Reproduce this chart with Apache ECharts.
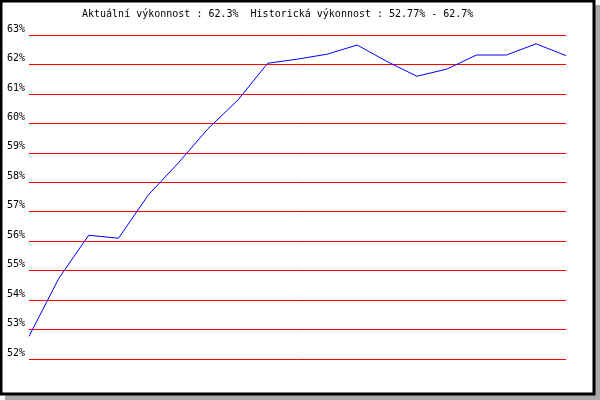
<!DOCTYPE html>
<html>
<head>
<meta charset="utf-8">
<script src="https://cdn.jsdelivr.net/npm/echarts@6/dist/echarts.min.js"></script>
<style>
html,body{margin:0;padding:0;background:#fff;}
#c{width:600px;height:400px;}
</style>
</head>
<body>
<div id="c"></div>
<script>
var titleText = 'Aktuální výkonnost : 62.3%  Historická výkonnost : 52.77% - 62.7%';
var categories = ['1','2','3','4','5','6','7','8','9','10','11','12','13','14','15','16','17','18','19'];
var performance = [52.77, 54.74, 56.2, 56.1, 57.57, 58.65, 59.82, 60.79, 62.04, 62.18, 62.35, 62.66, 62.1, 61.6, 61.84, 62.32, 62.32, 62.7, 62.3];
var yMin = 52, yMax = 63, yStep = 1;

var chart = echarts.init(document.getElementById('c'), null, {renderer: 'canvas'});
chart.setOption({
  animation: false,
  backgroundColor: '#fff',
  title: {
    text: titleText,
    left: 82,
    top: 9,
    padding: 0,
    textStyle: {fontFamily: 'DejaVu Sans Mono', fontSize: 10, fontWeight: 'normal', color: '#000'}
  },
  graphic: [
    {type: 'rect', z: -10, silent: true, shape: {x: 5, y: 5, width: 595, height: 395}, style: {fill: '#aaaaaa'}},
    {type: 'rect', z: -9, silent: true, shape: {x: 1, y: 1, width: 593, height: 393}, style: {fill: '#fff', stroke: '#000', lineWidth: 3}}
  ],
  grid: {left: 29, right: 34, top: 35, bottom: 41, containLabel: false},
  xAxis: {
    type: 'category',
    data: categories,
    boundaryGap: false,
    show: false
  },
  yAxis: {
    type: 'value',
    min: yMin, max: yMax, interval: yStep,
    axisLine: {show: false},
    axisTick: {show: false},
    axisLabel: {
      formatter: '{value}%',
      color: '#000',
      fontFamily: 'DejaVu Sans Mono',
      fontSize: 10,
      margin: 4,
      verticalAlign: 'bottom',
      padding: [0, 0, 1, 0]
    },
    splitLine: {show: true, lineStyle: {color: '#ff0000', width: 1}}
  },
  series: [{
    type: 'line',
    data: performance,
    showSymbol: false,
    symbol: 'none',
    lineStyle: {color: '#0000ff', width: 1},
    itemStyle: {color: '#0000ff'}
  }]
});
</script>
</body>
</html>
